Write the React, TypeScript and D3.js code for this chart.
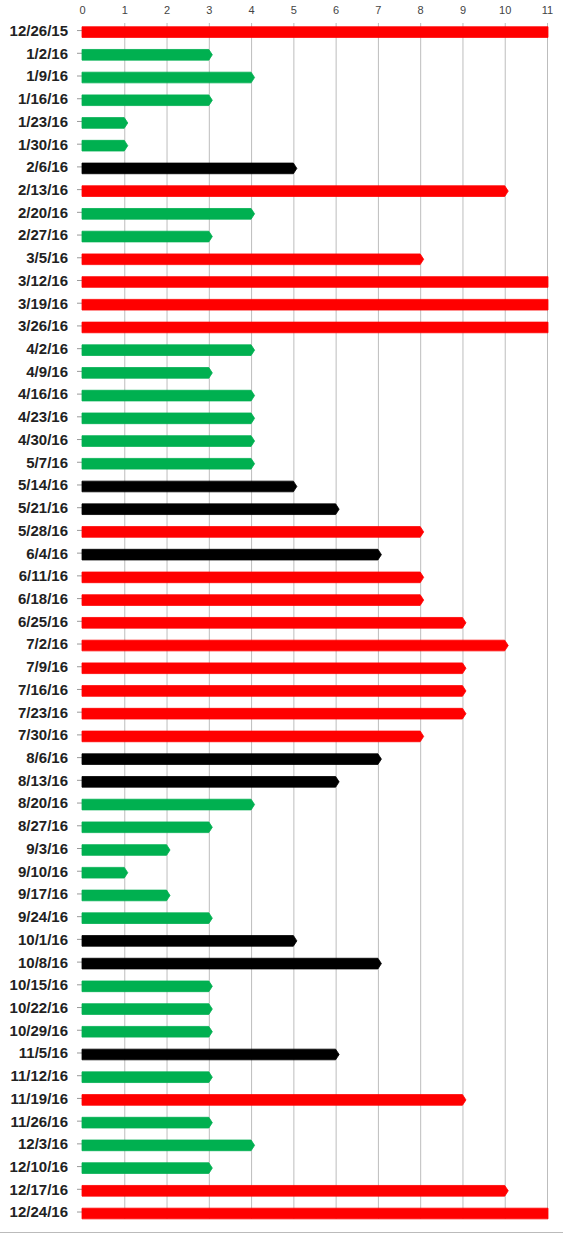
import React, { useRef, useEffect } from "react";
import * as d3 from "d3";

const weeks = [
  "12/26/15", "1/2/16", "1/9/16", "1/16/16", "1/23/16", "1/30/16", "2/6/16", "2/13/16",
  "2/20/16", "2/27/16", "3/5/16", "3/12/16", "3/19/16", "3/26/16", "4/2/16", "4/9/16",
  "4/16/16", "4/23/16", "4/30/16", "5/7/16", "5/14/16", "5/21/16", "5/28/16", "6/4/16",
  "6/11/16", "6/18/16", "6/25/16", "7/2/16", "7/9/16", "7/16/16", "7/23/16", "7/30/16",
  "8/6/16", "8/13/16", "8/20/16", "8/27/16", "9/3/16", "9/10/16", "9/17/16", "9/24/16",
  "10/1/16", "10/8/16", "10/15/16", "10/22/16", "10/29/16", "11/5/16", "11/12/16", "11/19/16",
  "11/26/16", "12/3/16", "12/10/16", "12/17/16", "12/24/16",
];

const values = [
  11, 3, 4, 3, 1, 1, 5, 10,
  4, 3, 8, 11, 11, 11, 4, 3,
  4, 4, 4, 4, 5, 6, 8, 7,
  8, 8, 9, 10, 9, 9, 9, 8,
  7, 6, 4, 3, 2, 1, 2, 3,
  5, 7, 3, 3, 3, 6, 3, 9,
  3, 4, 3, 10, 11,
];

const xTicks = [0, 1, 2, 3, 4, 5, 6, 7, 8, 9, 10, 11];

const levelColor = (v: number) => (v >= 8 ? "#ff0000" : v >= 5 ? "#000000" : "#00b050");

const App = () => {
  const ref = useRef<SVGSVGElement>(null);

  useEffect(() => {
    document.body.style.margin = "0";
    const width = 563;
    const height = 1235;
    const margin = { top: 21, right: 16, left: 82 };
    const plotBottom = 1225;

    const svg = d3.select(ref.current);
    svg.selectAll("*").remove();
    svg.attr("width", width).attr("height", height);

    const x = d3.scaleLinear().domain([0, 11]).range([margin.left, width - margin.right]);
    const y = d3
      .scaleBand()
      .domain(weeks)
      .range([20.6, plotBottom])
      .paddingInner(0.53)
      .paddingOuter(0.27);

    // gridlines
    svg
      .append("g")
      .selectAll("line")
      .data(xTicks.filter((t) => t > 0))
      .join("line")
      .attr("x1", (d) => x(d) + 0.5)
      .attr("x2", (d) => x(d) + 0.5)
      .attr("y1", margin.top + 2)
      .attr("y2", plotBottom - 6)
      .attr("stroke", "#bdbdbd")
      .attr("stroke-width", 1);

    // top tick labels
    svg
      .append("g")
      .selectAll("text")
      .data(xTicks)
      .join("text")
      .attr("x", (d) => x(d) + 0.5)
      .attr("y", 14)
      .attr("text-anchor", "middle")
      .attr("font-family", "Liberation Sans, Arial, sans-serif")
      .attr("font-size", "11px")
      .attr("fill", "#444")
      .text((d) => d);

    // category ticks + labels
    const rows = svg.append("g");
    rows
      .selectAll("line")
      .data(weeks)
      .join("line")
      .attr("x1", margin.left - 5)
      .attr("x2", margin.left)
      .attr("y1", (d) => y(d)! + y.bandwidth() / 2 - 1.5)
      .attr("y2", (d) => y(d)! + y.bandwidth() / 2 - 1.5)
      .attr("stroke", "#999");
    rows
      .selectAll("text")
      .data(weeks)
      .join("text")
      .attr("x", 68)
      .attr("y", (d) => y(d)! + y.bandwidth() / 2 - 1.5)
      .attr("dy", "0.36em")
      .attr("text-anchor", "end")
      .attr("font-family", "Liberation Sans, Arial, sans-serif")
      .attr("font-weight", "bold")
      .attr("font-size", "15px")
      .attr("fill", "#222")
      .text((d) => d);

    // bars with pointed tips
    const data = weeks.map((w, i) => ({ w, v: values[i] }));
    svg
      .append("g")
      .selectAll("path")
      .data(data)
      .join("path")
      .attr("d", (d) => {
        const y0 = y(d.w)!;
        const y1 = y0 + y.bandwidth();
        const cy = (y0 + y1) / 2;
        const x0 = x(0);
        if (d.v >= 11) {
          const xe = x(11) + 1;
          return `M${x0},${y0}H${xe}V${y1}H${x0}Z`;
        }
        const xe = x(d.v);
        return `M${x0},${y0}H${xe}L${xe + 3.5},${cy}L${xe},${y1}H${x0}Z`;
      })
      .attr("fill", (d) => levelColor(d.v))
      .attr("stroke", (d) => levelColor(d.v))
      .attr("stroke-width", 0.8)
      .attr("stroke-linejoin", "round");

    // bottom frame line
    svg
      .append("line")
      .attr("x1", 0)
      .attr("x2", width)
      .attr("y1", height - 2.5)
      .attr("y2", height - 2.5)
      .attr("stroke", "#bbb");
  }, []);

  return <svg ref={ref} style={{ display: "block", background: "#fff" }}></svg>;
};

export default App;
